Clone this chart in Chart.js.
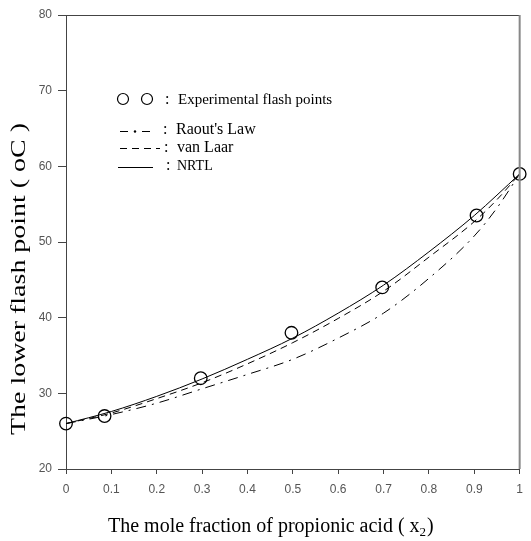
<!DOCTYPE html>
<html>
<head>
<meta charset="utf-8">
<script src="https://cdn.jsdelivr.net/npm/chart.js@4/dist/chart.umd.min.js"></script>
<style>
  html, body { margin: 0; padding: 0; background: #fff; }
  #c { display: block; }
</style>
</head>
<body>
<canvas id="c" width="531" height="541"></canvas>
<script>
// ---- data ----
const expX = [0, 0.085, 0.297, 0.497, 0.697, 0.905, 1.0];
const expY = [26, 27, 32, 38, 44, 53.5, 59];

const modelX = [0, 0.1, 0.2, 0.3, 0.4, 0.5, 0.6, 0.7, 0.8, 0.9, 0.95, 1.0];
const nrtlY    = [26, 27.6, 29.6, 31.9, 34.5, 37.3, 40.6, 44.3, 48.7, 53.5, 56.2, 59];
const vanLaarY = [26, 27.4, 29.3, 31.4, 33.9, 36.7, 39.9, 43.5, 48.0, 52.7, 55.6, 59];
const raoultY  = [26, 27.2, 28.7, 30.6, 32.5, 34.5, 37.3, 40.6, 45.2, 50.8, 54.5, 59];

const xTickLabels = ['0', '0.1', '0.2', '0.3', '0.4', '0.5', '0.6', '0.7', '0.8', '0.9', '1'];
const yTickLabels = ['20', '30', '40', '50', '60', '70', '80'];

const xTitle = 'The mole fraction of propionic acid ( x';
const xTitleSub = '2';
const xTitleEnd = ')';
const yTitle = 'The lower flash point ( oC )';

const legendExp = 'Experimental flash points';
const legendRaoult = "Raout's Law";
const legendVanLaar = 'van Laar';
const legendNRTL = 'NRTL';

const pts = (xs, ys) => xs.map((x, i) => ({ x: x, y: ys[i] }));

const SERIF = '"Liberation Serif", "Times New Roman", serif';
const SANS = '"Liberation Sans", Arial, sans-serif';

const decorPlugin = {
  id: 'decor',
  afterDraw(chart) {
    const ctx = chart.ctx;
    const a = chart.chartArea;
    ctx.save();
    // frame: top and right
    ctx.strokeStyle = '#444';
    ctx.lineWidth = 1;
    ctx.beginPath();
    ctx.moveTo(a.left, a.top + 0.5);
    ctx.lineTo(a.right, a.top + 0.5);
    ctx.stroke();
    ctx.strokeStyle = '#888';
    ctx.lineWidth = 2;
    ctx.beginPath();
    ctx.moveTo(a.right, a.top);
    ctx.lineTo(a.right, a.bottom);
    ctx.stroke();

    // legend
    ctx.fillStyle = '#000';
    ctx.strokeStyle = '#000';
    ctx.lineWidth = 1.2;
    ctx.setLineDash([]);
    [123, 147].forEach(cx => {
      ctx.beginPath();
      ctx.arc(cx, 99, 5.5, 0, Math.PI * 2);
      ctx.stroke();
    });
    ctx.textBaseline = 'alphabetic';
    ctx.textAlign = 'left';
    ctx.font = '16px ' + SERIF;
    ctx.fillText(':', 165, 104);
    ctx.font = '15px ' + SERIF;
    ctx.fillText(legendExp, 178, 104);

    ctx.lineWidth = 1;
    // Raoult sample: dash dot dash
    ctx.beginPath(); ctx.moveTo(120, 131.5); ctx.lineTo(128, 131.5); ctx.stroke();
    ctx.beginPath(); ctx.arc(135, 131.5, 1.2, 0, Math.PI * 2); ctx.fill();
    ctx.beginPath(); ctx.moveTo(142, 131.5); ctx.lineTo(150, 131.5); ctx.stroke();
    ctx.font = '16px ' + SERIF;
    ctx.fillText(':', 163, 134);
    ctx.fillText(legendRaoult, 176, 134);

    // van Laar sample: dashed
    ctx.setLineDash([7, 5]);
    ctx.beginPath(); ctx.moveTo(120, 148.5); ctx.lineTo(160, 148.5); ctx.stroke();
    ctx.setLineDash([]);
    ctx.fillText(':', 164, 152);
    ctx.fillText(legendVanLaar, 177, 152);

    // NRTL sample: solid
    ctx.beginPath(); ctx.moveTo(118, 167.5); ctx.lineTo(153, 167.5); ctx.stroke();
    ctx.fillText(':', 166, 170);
    ctx.font = '14px ' + SERIF;
    ctx.fillText(legendNRTL, 177, 170);

    // x title
    ctx.font = '20px ' + SERIF;
    let xx = 108;
    ctx.fillText(xTitle, xx, 532);
    xx += ctx.measureText(xTitle).width;
    ctx.font = '13px ' + SERIF;
    ctx.fillText(xTitleSub, xx, 536);
    xx += ctx.measureText(xTitleSub).width + 1;
    ctx.font = '20px ' + SERIF;
    ctx.fillText(xTitleEnd, xx, 532);

    // y title (rotated)
    ctx.font = '21px ' + SERIF;
    const w = ctx.measureText(yTitle).width;
    ctx.translate(25, 435);
    ctx.rotate(-Math.PI / 2);
    ctx.scale(312 / w, 1);
    ctx.fillText(yTitle, 0, 0);
    ctx.restore();
  }
};

new Chart(document.getElementById('c'), {
  type: 'scatter',
  data: {
    datasets: [
      {
        label: legendNRTL,
        data: pts(modelX, nrtlY),
        showLine: true,
        borderColor: '#000',
        borderWidth: 1,
        pointRadius: 0,
        cubicInterpolationMode: 'monotone',
        fill: false
      },
      {
        label: legendVanLaar,
        data: pts(modelX, vanLaarY),
        showLine: true,
        borderColor: '#000',
        borderWidth: 1,
        borderDash: [7, 5],
        pointRadius: 0,
        cubicInterpolationMode: 'monotone',
        fill: false
      },
      {
        label: legendRaoult,
        data: pts(modelX, raoultY),
        showLine: true,
        borderColor: '#000',
        borderWidth: 1,
        borderDash: [10, 6, 2, 6],
        pointRadius: 0,
        cubicInterpolationMode: 'monotone',
        fill: false
      },
      {
        label: legendExp,
        data: pts(expX, expY),
        showLine: false,
        pointStyle: 'circle',
        pointRadius: 6.3,
        pointBorderWidth: 1.3,
        pointBorderColor: '#000',
        pointBackgroundColor: 'rgba(0,0,0,0)',
        clip: false
      }
    ]
  },
  options: {
    responsive: false,
    animation: false,
    layout: { padding: { left: 0, right: 3, top: 15, bottom: 0 } },
    plugins: {
      legend: { display: false },
      tooltip: { enabled: false },
      title: { display: false }
    },
    scales: {
      x: {
        type: 'linear',
        min: 0,
        max: 1,
        ticks: {
          stepSize: 0.1,
          padding: 8,
          color: '#555',
          font: { family: SANS, size: 12 },
          maxRotation: 0,
          autoSkip: false,
          callback: (v, i) => xTickLabels[i]
        },
        grid: { drawOnChartArea: false, drawTicks: true, tickLength: 5, color: '#444', lineWidth: 1 },
        border: { display: true, color: '#444', width: 1 },
        afterFit: s => { s.height = 72; }
      },
      y: {
        type: 'linear',
        min: 20,
        max: 80,
        ticks: {
          stepSize: 10,
          padding: 6,
          color: '#555',
          font: { family: SANS, size: 12 },
          autoSkip: false,
          callback: (v, i) => yTickLabels[i]
        },
        grid: { drawOnChartArea: false, drawTicks: true, tickLength: 8, color: '#444', lineWidth: 1 },
        border: { display: true, color: '#444', width: 1 },
        afterFit: s => { s.width = 66; }
      }
    }
  },
  plugins: [decorPlugin]
});
</script>
</body>
</html>
